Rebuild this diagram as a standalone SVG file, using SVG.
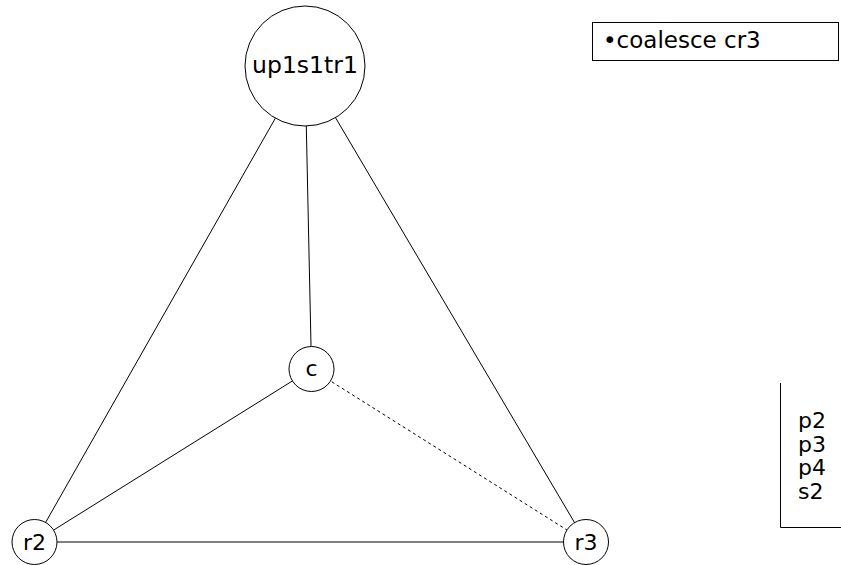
<svg xmlns="http://www.w3.org/2000/svg" width="841" height="565" viewBox="0 0 841 565">
<style>
.n{fill:#fff;stroke:#000;stroke-width:1}
.t{font-family:"DejaVu Sans",Verdana,sans-serif;font-size:22px;fill:#000}
.e{stroke:#000;stroke-width:1;fill:none}
.d{stroke-dasharray:3,3}
</style>
<rect width="841" height="565" fill="#fff"/>
<g id="connectors">
<line class="e" x1="305" y1="66" x2="34.5" y2="542"/>
<line class="e" x1="305" y1="66" x2="311.5" y2="369"/>
<line class="e" x1="305" y1="66" x2="586" y2="542"/>
<line class="e" x1="311.5" y1="369" x2="34.5" y2="542"/>
<line class="e d" x1="311.5" y1="369" x2="586" y2="542"/>
<line class="e" x1="34.5" y1="542" x2="586" y2="542"/>
</g>
<g id="up1s1tr1"><circle class="n" cx="305" cy="66" r="60"/><text class="t" x="305" y="73" text-anchor="middle" style="font-size:23.5px">up1s1tr1</text></g>
<g id="c"><circle class="n" cx="311.5" cy="369" r="22.5"/><text class="t" x="311.5" y="376" text-anchor="middle">c</text></g>
<g id="r2"><circle class="n" cx="34.5" cy="542" r="22.5"/><text class="t" x="34.5" y="550" text-anchor="middle">r2</text></g>
<g id="r3"><circle class="n" cx="586" cy="542" r="22.5"/><text class="t" x="586" y="550" text-anchor="middle">r3</text></g>
<g id="legend"><rect x="592.5" y="22.5" width="246" height="38" fill="#fff" stroke="#000"/><text class="t" x="603" y="48" style="font-size:23px">•coalesce cr3</text></g>
<g id="stack">
<path class="e" d="M780.5 383 V527.5 H841"/>
<text class="t" x="798" y="428">p2</text>
<text class="t" x="798" y="451.5">p3</text>
<text class="t" x="798" y="475">p4</text>
<text class="t" x="798" y="498.5">s2</text>
</g>
</svg>
